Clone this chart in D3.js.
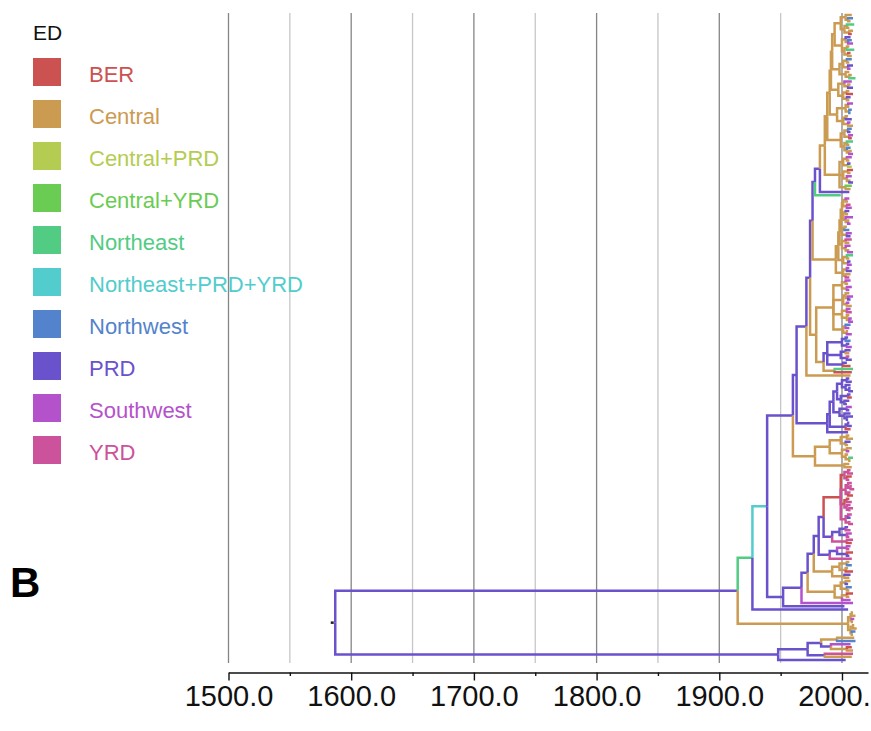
<!DOCTYPE html>
<html>
<head>
<meta charset="utf-8">
<script src="https://cdn.jsdelivr.net/npm/d3@7"></script>
<style>
  body { margin: 0; background: #fff; }
  svg { display: block; font-family: "Liberation Sans", Arial, sans-serif; }
</style>
</head>
<body>
<svg id="chart" width="871" height="731"></svg>
<script>
// legend: ED states, their one-letter codes used in the tree strings, and colours
const states = ["BER", "Central", "Central+PRD", "Central+YRD", "Northeast",
  "Northeast+PRD+YRD", "Northwest", "PRD", "Southwest", "YRD"];
const codes = ["B", "C", "K", "G", "N", "T", "W", "P", "S", "Y"];
const colors = ["#cc5252", "#cc9b52", "#b4cc52", "#6acc52", "#52cc83",
  "#52cccc", "#5283cc", "#6a52cc", "#b452cc", "#cc529b"];

// axis
const majorTicks = [1500, 1600, 1700, 1800, 1900, 2000];
const minorTicks = [1550, 1650, 1750, 1850, 1950];

// tree, written as small newick strings: each node is <state><year>
const topSubs = [
  "((C2008,(W2009,C2007)C2005)C2003,((N2010,C2006)C2004,(C2009,B2008)C2006)C2002)C1999",
  "((P2007,(W2008,S2009)C2005)C2003,((C2006,N2010)C2004,(B2007,C2008)C2005)C2002)C2000",
  "(((W2008,C2006)C2004,(P2009,S2007)C2005)C2001,(C2006,(C2008,N2011)C2006)C2003)C1998",
  "((S2008,(C2007,P2009)C2005)C2002,((C2006,B2009)C2004,(P2007,C2006)C2004)C2001)C1997",
  "(((S2009,C2006)C2005,(W2008,W2007)C2006)C2003,((C2005,P2008)C2003,(S2007,C2009)C2005)C2001)C1996",
  "(((W2008,P2007)C2005,(S2009,B2008)C2006)C2002,((N2009,C2006)C2004,(W2007,(C2008,S2009)C2006)C2004)C2002)C1999",
  "(((S2008,C2006)C2004,(P2007,K2008)C2005)C2001,((B2009,C2007)C2005,(S2008,(C2006,P2009)C2006)C2004)C2001,(G2008,C2007)C2003)C1998"
];
const r3Subs = [
  "((S2006,C2005)C2003,(Y2007,S2008)C2004)C2001",
  "((P2006,C2005)C2003,(S2009,(C2006,S2007)C2005)C2003)C2001",
  "((C2004,W2006)C2002,(S2008,P2007)C2004)C2000",
  "((Y2008,C2006)C2003,(S2007,(C2005,S2009)C2005)C2003)C2000",
  "((N2009,C2006)C2004,(P2007,S2008)C2005)C2001",
  "((S2006,P2008)C2004,(C2007,Y2006)C2003)C2001"
];
const cladeR4a = "(((S2007,C2005)C2003,(S2008,S2006)C2004)C2000,((C2006,(S2009,P2007)C2005)C2003,(S2006,C2008)C2004)C2001," +
  "((S2007,Y2008)C2004,(C2006,(S2008,S2009)C2006)C2004)C2000,((W2007,S2006)C2003,(C2005,S2008)C2004)C2001)C1993";
const cladeR4b = "(((P2005,W2007)P2003,(P2006,S2008)P2004)P2000,((P2007,C2006)P2003,(Y2006,P2008)P2004)P1999,(P2004,B2007)P2001)P1988";
const r5aSubs = [
  "((P2006,P2008)P2004,(P2007,(P2005,P2009)P2006)P2003)P2000",
  "((P2007,B2008)P2005,(P2006,P2004)P2002)P1999",
  "((S2008,P2006)P2004,(P2007,(P2009,P2005)P2004)P2002)P1998",
  "((P2006,P2008)P2005,B2007)P2003"
];
const cladeR5b = "((((C2006,C2009)C2004,(P2007,C2005)C2003)C1999,((C2008,S2006)C2004,(C2005,(N2009,C2007)C2006)C2003)C2000)C1990,(C2006,C2008)C2002)C1978";
const cladeRed = "(((Y2007,Y2009)Y2005,(B2008,Y2006)Y2004)B2002,((Y2008,(Y2006,Y2010)Y2007)Y2005,(Y2007,B2009)Y2005)Y2003," +
  "((B2006,Y2008)B2004,(Y2007,(Y2009,Y2006)Y2006)Y2004)B2002,((Y2008,P2007)Y2005,(Y2006,Y2009)Y2006)Y2003)B1999";
const cladeB5 = "(((P2005,Y2007)P2003,(S2008,Y2006)P2004)P1998,(Y2009,B2008)Y2004)P1992";
const cladeB4 = "(((S2007,Y2006)S2004,(B2009,P2006)P2004)P1996,Y2008)P1990";
const cladeB3 = "(((C2006,W2008)C2004,(C2005,B2009)C2003)C1998,(P2007,C2006)C2002)C1992";
const cladeB2 = "(((C2007,P2005)C2003,(W2008,C2006)C2004)C1999,((B2009,C2006)C2004,S2007)C2000)C1994";
const cladeTan = "(((C2009,C2011)C2008,(S2010,C2009)C2008)C2007,((C2010,C2012)C2009,(W2011,C2009)C2008)C2007)C2005";
const cladeLow = "(((C2010,W2011)C1996,(S2007,(B2008,C2009)C2004)P1991)P1983,(Y2009,C2008)P1986)P1972";

// backbone
const cladeTop = `((((((${topSubs[0]},${topSubs[1]})C1994,${topSubs[2]})C1992,${topSubs[3]})C1991,${topSubs[4]})C1990,${topSubs[5]})C1988,${topSubs[6]})C1986`;
const cladeR3 = `(((((${r3Subs[0]},${r3Subs[1]})C2000,${r3Subs[2]})C1999,${r3Subs[3]})C1998,${r3Subs[4]})C1997,${r3Subs[5]})C1995`;
const nodeTG = `(((${cladeTop},P2006)P1982,N1999)P1978,${cladeR3})P1976`;
const cladeR4 = `(${cladeR4a},(${cladeR4b},(N2009,B2008)C1994)C1985)C1979`;
const nodeA3 = `(${nodeTG},${cladeR4})P1974`;
const nodeA2 = `(${nodeA3},C2007)P1971`;
const cladeR5a = `((((${r5aSubs[0]},${r5aSubs[1]})P1996,${r5aSubs[2]})P1993,${r5aSubs[3]})P1990,P2005)P1988`;
const nodeAup = `(${nodeA2},${cladeR5a})P1963`;
const nodeA = `(${nodeAup},${cladeR5b})P1960`;
const nodeB = `((((((${cladeRed},${cladeB5})P1985,${cladeB4})P1981,${cladeB3})P1977,${cladeB2})P1972,S2009)P1967,P2002)P1952`;
const nodeT1 = `(${nodeA},${nodeB})T1939`;
const nodeN1 = `(${nodeT1},P2005)N1927`;
const nodeU = `(${nodeN1},${cladeTan})P1915`;
const nodeL = `(${cladeLow},P2003)P1948`;
const treeString = `(${nodeU},${nodeL})P1587`;

function parseTree(s) {
  let i = 0;
  function node() {
    const n = { children: [] };
    if (s[i] === "(") {
      i++;
      n.children.push(node());
      while (s[i] === ",") { i++; n.children.push(node()); }
      i++; // closing bracket
    }
    const m = /^([A-Z])([\d.]+)/.exec(s.slice(i));
    n.state = m[1];
    n.year = +m[2];
    i += m[0].length;
    return n;
  }
  return node();
}

const svg = d3.select("#chart");
svg.append("rect").attr("width", 871).attr("height", 731).attr("fill", "#fff");

const x = d3.scaleLinear().domain([1500, 2021.2]).range([228.5, 868]);
const colorOf = d3.scaleOrdinal().domain(codes).range(colors);

const root = d3.hierarchy(parseTree(treeString), d => d.children.length ? d.children : null);
const leaves = root.leaves();
const y = d3.scaleLinear().domain([0, leaves.length - 1]).range([15, 660]);
leaves.forEach((d, i) => { d.py = y(i); });
root.eachAfter(d => {
  d.px = x(d.data.year);
  if (d.children) d.py = (d.children[0].py + d.children[d.children.length - 1].py) / 2;
});

// grid lines
const gridTop = 13, gridBottom = 663;
svg.append("g").selectAll("line")
  .data(minorTicks.concat(majorTicks))
  .enter().append("line")
  .attr("x1", d => x(d)).attr("x2", d => x(d))
  .attr("y1", gridTop).attr("y2", gridBottom)
  .attr("stroke", d => d % 100 === 0 ? "#858585" : "#c6c6c6")
  .attr("stroke-width", 1.3);

// branches
svg.append("g").selectAll("path")
  .data(root.descendants().filter(d => d.parent))
  .enter().append("path")
  .attr("d", d => `M${d.parent.px},${d.parent.py}V${d.py}H${d.px}`)
  .attr("fill", "none")
  .attr("stroke", d => colorOf(d.data.state))
  .attr("stroke-width", 2.5)
  .attr("stroke-linejoin", "miter");

// root stub
svg.append("line")
  .attr("x1", root.px - 4.5).attr("x2", root.px - 1.5)
  .attr("y1", root.py).attr("y2", root.py)
  .attr("stroke", "#222").attr("stroke-width", 2.5);

// axis
const axisY = 672.5;
const axisG = svg.append("g").attr("transform", `translate(0,${axisY})`);
axisG.call(d3.axisBottom(x).tickValues(majorTicks).tickFormat(d3.format(".1f"))
  .tickSize(8).tickSizeOuter(0));
axisG.selectAll("path, line").attr("stroke", "#111").attr("stroke-width", 1.4);
axisG.selectAll("text")
  .attr("y", 13)
  .attr("fill", "#111")
  .style("font-size", "29px")
  .style("font-family", "'Liberation Sans', Arial, sans-serif");
const minorG = svg.append("g").attr("transform", `translate(0,${axisY})`);
minorG.call(d3.axisBottom(x).tickValues(minorTicks).tickFormat("").tickSize(3.5).tickSizeOuter(0));
minorG.select(".domain").remove();
minorG.selectAll("line").attr("stroke", "#111").attr("stroke-width", 1.4);

// legend
const legend = svg.append("g");
legend.append("text")
  .attr("x", 33).attr("y", 40)
  .attr("fill", "#111")
  .style("font-size", "21px")
  .text("ED");
const item = legend.selectAll(".item")
  .data(states)
  .enter().append("g")
  .attr("class", "item")
  .attr("transform", (d, i) => `translate(33,${58 + i * 42})`);
item.append("rect")
  .attr("width", 28).attr("height", 28)
  .attr("fill", (d, i) => colors[i]);
item.append("text")
  .attr("x", 56).attr("y", 24)
  .attr("fill", (d, i) => colors[i])
  .style("font-size", "22px")
  .text(d => d);

// panel letter
svg.append("text")
  .attr("x", 10).attr("y", 597)
  .style("font-size", "42px")
  .style("font-weight", "bold")
  .attr("fill", "#000")
  .text("B");
</script>
</body>
</html>
